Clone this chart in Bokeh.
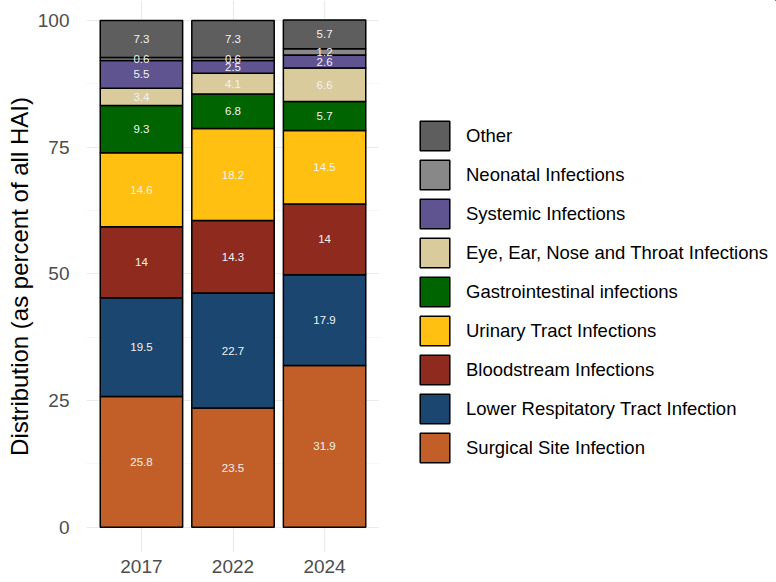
import numpy as np
from bokeh.plotting import figure
from bokeh.layouts import row
from bokeh.models import (ColumnDataSource, FactorRange, Range1d, FixedTicker,
                          Legend, LegendItem)
from bokeh.core.properties import value
from bokeh.embed import file_html
from bokeh.resources import INLINE

# ---- data ----
years = ["2017", "2022", "2024"]
categories = [
    "Surgical Site Infection",
    "Lower Respitatory Tract Infection",
    "Bloodstream Infections",
    "Urinary Tract Infections",
    "Gastrointestinal infections",
    "Eye, Ear, Nose and Throat Infections",
    "Systemic Infections",
    "Neonatal Infections",
    "Other",
]
surgical = [25.8, 23.5, 31.9]
lower_resp = [19.5, 22.7, 17.9]
bloodstream = [14.0, 14.3, 14.0]
urinary = [14.6, 18.2, 14.5]
gastro = [9.3, 6.8, 5.7]
eent = [3.4, 4.1, 6.6]
systemic = [5.5, 2.5, 2.6]
neonatal = [0.6, 0.6, 1.2]
other = [7.3, 7.3, 5.7]
y_ticks = [0, 25, 50, 75, 100]
y_minor = [12.5, 37.5, 62.5, 87.5]

colors = ["#C25F28", "#1B466F", "#8E2A1E", "#FFC011", "#006400",
          "#D9CB9B", "#5F5490", "#888888", "#5E5E5E"]

series = [surgical, lower_resp, bloodstream, urinary, gastro, eent,
          systemic, neonatal, other]
keys = ["s%d" % i for i in range(len(series))]

data = {"year": years}
for k, s in zip(keys, series):
    data[k] = s
source = ColumnDataSource(data)

H = 581
p = figure(
    x_range=FactorRange(factors=years, range_padding=0.1,
                        range_padding_units="absolute"),
    y_range=Range1d(-5, 103.94),
    width=390, height=H,
    output_backend="svg", toolbar_location=None,
    min_border_left=86, min_border_right=11,
    min_border_top=0, min_border_bottom=29,
)
p.outline_line_color = None

renderers = p.vbar_stack(keys, x="year", width=0.9, source=source,
                         fill_color=colors, line_color="black",
                         line_width=1.5)

# labels
arr = np.array(series)
cum = np.cumsum(arr, axis=0)
mids = cum - arr / 2.0
lx, ly, lt = [], [], []
for i in range(arr.shape[0]):
    for j, yr in enumerate(years):
        lx.append(yr)
        ly.append(float(mids[i, j]))
        lt.append(f"{arr[i, j]:g}")
p.text(x=lx, y=ly, text=lt, text_font=value("Liberation Sans"),
       text_font_size="11.5px", text_color="#F2F2F2",
       text_align="center", text_baseline="middle")

# axes
p.yaxis.ticker = FixedTicker(ticks=y_ticks, minor_ticks=y_minor)
for ax in (p.xaxis, p.yaxis):
    ax.axis_line_color = None
    ax.major_tick_line_color = None
    ax.minor_tick_line_color = None
    ax.major_tick_out = 0
    ax.major_tick_in = 0
    ax.major_label_text_font = "Liberation Sans"
    ax.major_label_text_font_size = "19px"
    ax.major_label_text_color = "#4D4D4D"
p.xaxis.major_label_standoff = 7
p.yaxis.major_label_standoff = 13
p.yaxis.axis_label = "Distribution (as percent of all HAI)"
p.yaxis.axis_label_text_font = "Liberation Sans"
p.yaxis.axis_label_text_font_size = "24px"
p.yaxis.axis_label_text_font_style = "normal"
p.yaxis.axis_label_text_color = "black"
p.yaxis.axis_label_standoff = 2

p.xgrid.grid_line_color = "#EBEBEB"
p.xgrid.grid_line_width = 1.2
p.ygrid.grid_line_color = "#EBEBEB"
p.ygrid.grid_line_width = 1.2
p.ygrid.minor_grid_line_color = "#F2F2F2"
p.ygrid.minor_grid_line_width = 0.7

# legend panel (dummy glyphs placed outside the visible range)
p2 = figure(width=386, height=H, x_range=Range1d(0, 1), y_range=Range1d(0, 1),
            output_backend="svg", toolbar_location=None,
            x_axis_location=None, y_axis_location=None,
            min_border=0, min_border_left=0, min_border_right=0,
            min_border_top=0, min_border_bottom=0)
p2.outline_line_color = None
p2.xgrid.visible = False
p2.ygrid.visible = False
leg_renderers = []
for c in colors:
    leg_renderers.append(p2.vbar(x=[10], top=[20], bottom=[15], width=0.1,
                                 fill_color=c, line_color="black",
                                 line_width=1.5))

items = [LegendItem(label=c, renderers=[r])
         for c, r in zip(categories, leg_renderers)][::-1]
legend = Legend(items=items, location=(26, 86), glyph_width=37,
                glyph_height=37, spacing=2, padding=0, margin=0,
                label_standoff=13, label_text_font="Liberation Sans",
                label_text_font_size="18.5px", label_text_color="black",
                border_line_color=None, background_fill_alpha=0)
p2.add_layout(legend, "center")

layout = row(p, p2)
open("out.html", "w").write(file_html(layout, INLINE))
